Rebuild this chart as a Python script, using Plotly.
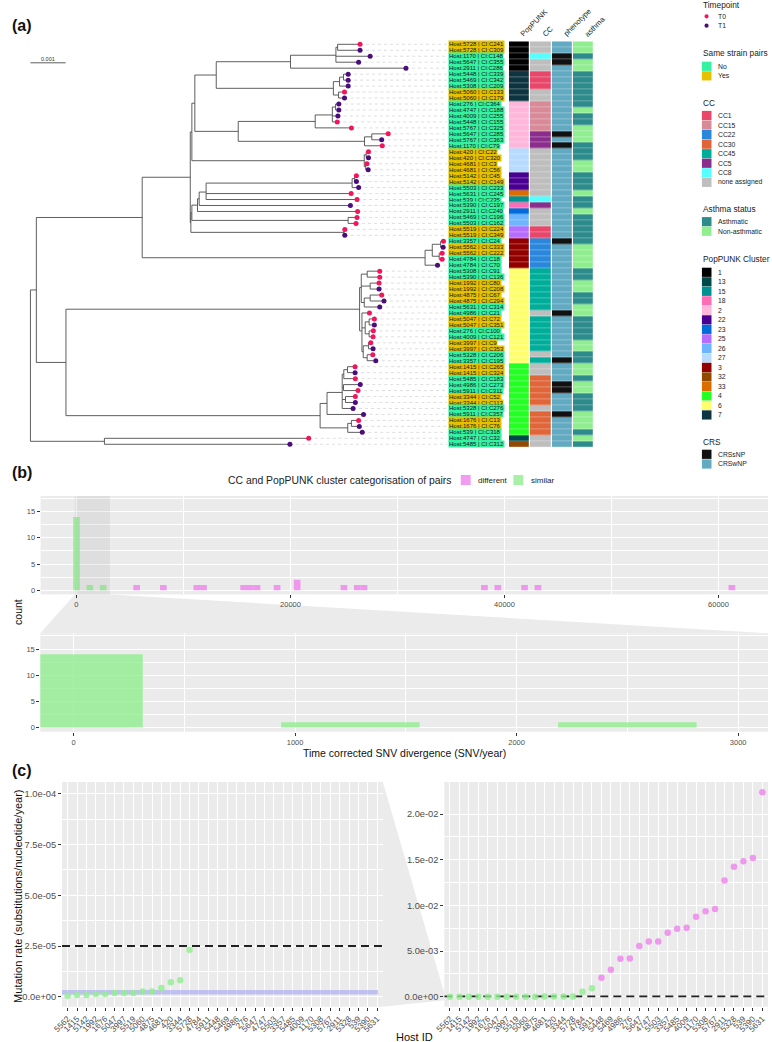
import plotly.graph_objects as go

W, H = 772, 1042
FONT = 'Liberation Sans, Arial, sans-serif'

# ---------------- panel (a) data: tips in plotted order ----------------
hosts = [5728, 5728, 1170, 5647, 2911, 5448, 5469, 5308, 5060, 5060, 276, 4747, 4009, 5448, 5767, 5647, 5767,
         1170, 420, 420, 4681, 4681, 5142, 5142, 5503, 5631, 539, 5390, 2911, 5469, 5503, 5519, 5519, 3357,
         5562, 5562, 4784, 4784, 5308, 5390, 1992, 1992, 4875, 4875, 5631, 4986, 5047, 5047, 276, 4009, 3997,
         3997, 5328, 3357, 1415, 1415, 5485, 4986, 5911, 3344, 3344, 5328, 5911, 1676, 1676, 539, 4747, 5485]
isolates = ['C241', 'C309', 'C148', 'C355', 'C286', 'C339', 'C342', 'C209', 'C133', 'C179', 'C364', 'C188',
            'C255', 'C155', 'C325', 'C285', 'C363', 'C79', 'C22', 'C320', 'C3', 'C56', 'C45', 'C149', 'C233',
            'C245', 'C235', 'C197', 'C240', 'C196', 'C162', 'C224', 'C349', 'C24', 'C333', 'C222', 'C18', 'C70',
            'C91', 'C136', 'C80', 'C208', 'C67', 'C294', 'C314', 'C21', 'C72', 'C351', 'C100', 'C121', 'C9',
            'C353', 'C206', 'C195', 'C265', 'C324', 'C183', 'C273', 'C311', 'C52', 'C113', 'C276', 'C357', 'C13',
            'C76', 'C318', 'C32', 'C312']
same_strain = list('YYNNNNNNYY' 'NNNNNNNNYY' 'YYYYNNNNNN' 'NYYNYYNNNN' 'YYYYNNYYNN' 'YYNNYYNNNY' 'YNNYYNNN')
timepoint = list('0111111101' '1110001001' '0101100100' '0010100100' '0101100100' '0101010100' '11101101')

poppunk = (['1'] * 5 + ['7'] * 5 + ['2'] * 8 + ['27'] * 4 + ['22'] * 3 + ['33', '15', '18', '23'] + ['26'] * 2
           + ['25'] * 2 + ['3'] * 5 + ['6'] * 16 + ['4'] * 12 + ['13', '32'])
cc = (['none assigned', 'none assigned', 'CC8', 'none assigned', 'none assigned'] + ['CC1'] * 3
      + ['none assigned'] * 2 + ['CC15'] * 5 + ['CC5'] * 3 + ['none assigned'] * 8 + ['CC8', 'CC5']
      + ['none assigned'] * 3 + ['CC1'] * 2 + ['CC22'] * 5 + ['CC45'] * 7 + ['none assigned'] + ['CC45'] * 6
      + ['none assigned', 'CC45', 'none assigned', 'none assigned'] + ['CC30'] * 5 + ['none assigned']
      + ['CC30'] * 4 + ['none assigned'] * 2)
crssnp_rows = [3, 4, 16, 18, 34, 46, 54, 58, 59, 63]
non_asthmatic_hosts = [5728, 5647, 2911, 4747, 5767, 4681, 5631, 5562, 4784, 1992, 4986, 3997, 1415,
                       5911, 1676]

# tree (newick, substitutions/site), tip names = row number
n1 = '(((1:0.000636,2:0.000636):0.000048,3:0.000972,4:0.000644):0.001288,5:0.003276):0.002108'
n2 = '(((6:0.000132,7:0.000132):0.000112,8:0.000244):0.000176,(9:0.000168,10:0.000168):0.000148):0.003324'
n3 = '(((11:0.000092,12:0.000092):0.000092,13:0.000157,14:0.00014):0.000487,15:0.001028):0.002184'
n4 = '((16:0.000465,17:0.00028):0.000207,18:0.000504):0.003584'
n5 = '((19:0.000064,20:0.000064):0.000056,(21:0.000034,22:0.00007):0.000042):0.004892'
c1 = '((' + n1 + ',' + n2 + '):0.000608,(' + n3 + ',' + n4 + '):0.001232):0.000084'
upper = '(' + c1 + ',' + n5 + '):0.000045'
l4 = '(((23:0.000048,24:0.000048):0.000073,25:0.000185):0.004144,26:0.004116,27:0.004284):0.000196'
lower = ('((((' + l4 + ',28:0.004292):0.000048,29:0.004544):0.00016,(30:0.000252,31:0.000224):0.004435):0.000028,'
         '(32:0.000022,33:0.000022):0.004346):0.000017')
a1b = '(((34:0.000078,35:0.00007):0.000238,(36:0.000084,37:0.000084):0.000196):0.000204,38:0.000353):0.008028'
a1 = '((' + upper + ',' + lower + '):0.001364,' + a1b + '):0.003004'
a2a = ('(((39:0.000356,40:0.000356):0.000168,(41:0.000252,42:0.000252):0.000252,'
       '((43:0.000328,44:0.000392):0.000168,45:0.00044):0.000084):0.000048,'
       '(46:0.000213,((47:0.000148,48:0.000148):0.000112,(49:0.00012,50:0.000112):0.000112):0.000092,'
       '((51:0.000067,52:0.000132):0.000148,(53:0.00016,54:0.000244):0.000112):0.000036):0.000067):0.008333')
a2b = ('(((((55:0.000216,56:0.000216):0.000104,57:0.000328):0.000045,(58:0.000476,59:0.000412):0.000036,'
       '(60:0.00028,61:0.00028):0.000092,62:0.000308):0.000431,63:0.001036):0.000196,'
       '((64:0.000204,65:0.000224):0.000104,66:0.000412):0.000784):0.007213')
newick = '((' + a1 + ',(' + a2a + ',' + a2b + '):0.00084):0.000168,(67:0.005796,68:0.005264):0.0021);'

# ---------------- panel (b) data ----------------
bin_width = 625
similar_bins = [0, 1250, 2500]
similar_counts = [14, 1, 1]
different_bins = [5625, 8125, 11250, 11875, 15625, 16250, 16875, 18750, 20625, 25000, 26250, 26875,
                  38125, 39375, 41875, 43125, 61250]
different_counts = [1, 1, 1, 1, 1, 1, 1, 1, 2, 1, 1, 1, 1, 1, 1, 1, 1]

# ---------------- panel (c) data ----------------
rate_hosts = ['5562', '1415', '5142', '1992', '1676', '5047', '3997', '5519', '5060', '4875', '4681', '420',
              '3344', '5728', '4784', '5911', '5448', '5469', '4986', '276', '5647', '4747', '5503', '3357',
              '5485', '4009', '1170', '5308', '5767', '2911', '5328', '539', '5390', '5631']
rates = [4.9e-7, 8.2e-7, 8.2e-7, 1.3e-6, 1.3e-6, 1.8e-6, 1.8e-6, 1.8e-6, 2.6e-6, 2.6e-6, 4.3e-6, 7.1e-6,
         8.1e-6, 2.32e-5, 5.5e-4, 9.1e-4, 2.08e-3, 2.95e-3, 4.15e-3, 4.19e-3, 5.54e-3, 6.05e-3, 6.05e-3,
         6.99e-3, 7.43e-3, 7.54e-3, 8.74e-3, 9.36e-3, 9.61e-3, 1.271e-2, 1.424e-2, 1.482e-2, 1.519e-2, 2.24e-2]
rate_similar = [True] * 16 + [False] * 18
threshold_rate = 2.5e-5
baseline_rate = 2.2e-6

# ---------------- colours ----------------
tp_colors = {'0': '#F5145C', '1': '#4B0C7E'}
strain_colors = {'N': '#35F2A0', 'Y': '#E5C100'}
pp_levels = ['1', '13', '15', '18', '2', '22', '23', '25', '26', '27', '3', '32', '33', '4', '6', '7']
pp_colors = ['#000000', '#004949', '#009292', '#FF6DB6', '#FFB6DB', '#490092', '#006DDB', '#B66DFF',
             '#6DB6FF', '#B6DBFF', '#920000', '#924900', '#DB6D00', '#24FF24', '#FFFF6D', '#0E3441']
cc_levels = ['CC1', 'CC15', 'CC22', 'CC30', 'CC45', 'CC5', 'CC8', 'none assigned']
cc_colors = ['#E8476A', '#D98A99', '#2B87DB', '#E0663A', '#00AD9A', '#8B2D8C', '#55FFFF', '#BEBEBE']
crs_levels = ['CRSsNP', 'CRSwNP']
crs_colors = ['#111111', '#62A9C2']
asthma_levels = ['Asthmatic', 'Non-asthmatic']
asthma_colors = ['#2E8B8B', '#90EE90']
GREEN = 'rgba(144,238,144,0.8)'
PINK = 'rgba(238,130,238,0.8)'
PANEL = '#EBEBEB'


def px(x):
    return x / W


def py(y):
    return 1 - y / H


def to_paper(v, rng, dom):
    return dom[0] + (v - rng[0]) / (rng[1] - rng[0]) * (dom[1] - dom[0])


def parse_newick(s):
    pos = 0

    def node():
        nonlocal pos
        children = []
        if s[pos] == '(':
            pos += 1
            while True:
                children.append(node())
                if s[pos] == ',':
                    pos += 1
                else:
                    break
            pos += 1
        start = pos
        while s[pos] not in ':,);':
            pos += 1
        name = s[start:pos]
        bl = 0.0
        if s[pos] == ':':
            pos += 1
            start = pos
            while s[pos] not in ',);':
                pos += 1
            bl = float(s[start:pos])
        return {'name': name, 'bl': bl, 'children': children}

    return node()


def layout_tree(n, depth):
    n['x'] = depth + n['bl']
    if n['children']:
        for c in n['children']:
            layout_tree(c, n['x'])
        n['y'] = sum(c['y'] for c in n['children']) / len(n['children'])
    else:
        n['y'] = int(n['name'])


tree = parse_newick(newick)
tree['bl'] = 0.0
layout_tree(tree, 0.0)

ex, ey, tips = [], [], []


def collect(n):
    if not n['children']:
        tips.append(n)
        return
    ys = [c['y'] for c in n['children']]
    ex.extend([n['x'], n['x'], None])
    ey.extend([min(ys), max(ys), None])
    for c in n['children']:
        ex.extend([n['x'], c['x'], None])
        ey.extend([c['y'], c['y'], None])
        collect(c)


collect(tree)
tips.sort(key=lambda t: t['y'])

n_rows = len(hosts)
row_px0, row_step = 44.3, 5.97
y_dom = [py(row_px0 + (n_rows - 0.5) * row_step), py(row_px0 - 0.5 * row_step)]
root_px, px_per_unit = 20.7, 35700.0
tree_right_px = 443
tree_range = [-root_px / px_per_unit, (tree_right_px - root_px) / px_per_unit]

fig = go.Figure()


def note(x, y, text, size, color='#222222', xanchor='left', **kw):
    # text placed in page pixels, always anchored on its vertical middle
    fig.add_annotation(x=px(x), y=py(y), xref='paper', yref='paper', text=text, showarrow=False,
                       xanchor=xanchor, yanchor=kw.pop('yanchor', 'middle'), font=dict(size=size, color=color), **kw)


# aligned dotted guides
gx, gy = [], []
for t in tips:
    gx.extend([t['x'], tree_range[1], None])
    gy.extend([t['y'], t['y'], None])
fig.add_trace(go.Scatter(x=gx, y=gy, mode='lines', line=dict(color='#C8C8C8', width=0.6, dash='dot'),
                         hoverinfo='skip', showlegend=False))
fig.add_trace(go.Scatter(x=ex, y=ey, mode='lines', line=dict(color='#4D4D4D', width=0.9),
                         hoverinfo='skip', showlegend=False))
fig.add_trace(go.Scatter(x=[t['x'] for t in tips], y=[t['y'] for t in tips], mode='markers',
                         marker=dict(size=5, color=[tp_colors[timepoint[t['y'] - 1]] for t in tips]),
                         hoverinfo='skip', showlegend=False))
# scale bar
fig.add_trace(go.Scatter(x=[0, 0.001], y=[4.1, 4.1], mode='lines', line=dict(color='#333333', width=0.8),
                         hoverinfo='skip', showlegend=False))
fig.add_annotation(x=0.0005, y=3.4, xref='x', yref='y', text='0.001', showarrow=False, xanchor='center',
                   yanchor='middle', font=dict(size=5.5, color='#333333'))

# heatmap
all_colors = pp_colors + cc_colors + crs_colors + asthma_colors
off_cc = len(pp_colors)
off_crs = off_cc + len(cc_colors)
off_as = off_crs + len(crs_colors)
z = []
for i in range(n_rows):
    row = i + 1
    z.append([pp_levels.index(poppunk[i]),
              off_cc + cc_levels.index(cc[i]),
              off_crs + (0 if row in crssnp_rows else 1),
              off_as + (1 if hosts[i] in non_asthmatic_hosts else 0)])
nc = len(all_colors)
cscale = []
for k, c in enumerate(all_colors):
    cscale.append([k / nc, c])
    cscale.append([(k + 1) / nc, c])
fig.add_trace(go.Heatmap(z=z, x=[0, 1, 2, 3], y=list(range(1, n_rows + 1)), xaxis='x2', yaxis='y',
                         colorscale=cscale, zmin=-0.5, zmax=nc - 0.5, showscale=False, xgap=1.2, ygap=0.3,
                         hoverinfo='skip'))
for k, name in enumerate(['PopPUNK', 'CC', 'phenotype', 'asthma']):
    note(513 + 21.5 * k, 41, name, 7.5, textangle=-45, yanchor='bottom')

# tip labels
for i in range(n_rows):
    fig.add_annotation(x=px(443.5), y=i + 1, xref='paper', yref='y',
                       text='Host:%d | CI:%s' % (hosts[i], isolates[i]), showarrow=False,
                       xanchor='left', yanchor='middle', bgcolor=strain_colors[same_strain[i]],
                       borderpad=0, height=6, font=dict(size=6, color='#111111'))

# ---------------- panel (b) ----------------
b_up_x, b_up_y = [-3348, 64628], [-0.8, 18]
b_lo_x, b_lo_y = [-150, 3135], [-0.8, 18]
b_up_dx, b_up_dy = [px(31), px(768)], [py(594.4), py(496)]
b_lo_dx, b_lo_dy = [px(30.7), px(768)], [py(731.7), py(633.3)]
for xa, ya in [('x3', 'y3'), ('x4', 'y4')]:
    fig.add_trace(go.Bar(x=similar_bins, y=similar_counts, width=bin_width, marker=dict(color=GREEN, line_width=0),
                         xaxis=xa, yaxis=ya, showlegend=False, hoverinfo='skip'))
    fig.add_trace(go.Bar(x=different_bins, y=different_counts, width=bin_width,
                         marker=dict(color=PINK, line_width=0), xaxis=xa, yaxis=ya, showlegend=False,
                         hoverinfo='skip'))

# magnified region in the upper plot and its connector
fig.add_shape(type='rect', xref='x3', yref='y3 domain', x0=b_lo_x[0], x1=b_lo_x[1], y0=0, y1=1,
              fillcolor='rgba(150,150,150,0.14)', line_width=0, layer='above')
hx0 = to_paper(b_lo_x[0], b_up_x, b_up_dx)
hx1 = to_paper(b_lo_x[1], b_up_x, b_up_dx)
fig.add_shape(type='path', xref='paper', yref='paper', layer='below', line_width=0, fillcolor=PANEL,
              path='M %f %f L %f %f L %f %f L %f %f Z' % (hx0, b_up_dy[0], hx1, b_up_dy[0],
                                                          b_lo_dx[1], b_lo_dy[1], b_lo_dx[0], b_lo_dy[1]))

# (b) legend
note(219, 480, 'CC and PopPUNK cluster categorisation of pairs', 10.4)
for x0, col, lab in [(456.7, PINK, 'different'), (510, GREEN, 'similar')]:
    fig.add_shape(type='rect', xref='paper', yref='paper', x0=px(x0), x1=px(x0 + 10), y0=py(485), y1=py(475),
                  fillcolor=col, line_width=0)
    note(x0 + 15.5, 480, lab, 8)

# ---------------- panel (c) ----------------
c_x = [-0.6, 33.6]
c_left_y, c_right_y = [-4.93e-6, 1.059e-4], [-0.0011, 0.02351]
c_left_dx, c_right_dx = [px(52.7), px(377.7)], [px(440), px(768)]
c_dy = [py(1006.7), py(782)]
idx = list(range(len(rate_hosts)))
for xa, ya in [('x5', 'y5'), ('x6', 'y6')]:
    for flag, col in [(True, GREEN), (False, PINK)]:
        sel = [i for i in idx if rate_similar[i] == flag]
        fig.add_trace(go.Scatter(x=sel, y=[rates[i] for i in sel], mode='markers', xaxis=xa, yaxis=ya,
                                 marker=dict(size=6.5, color=col), showlegend=False, hoverinfo='skip',
                                 cliponaxis=True))
fig.add_shape(type='line', xref='x5', yref='y5', x0=c_x[0], x1=33.1, y0=baseline_rate, y1=baseline_rate,
              line=dict(color='rgba(150,150,245,0.5)', width=4.3), layer='between')
for xr, yr in [('x5', 'y5'), ('x6', 'y6')]:
    fig.add_shape(type='line', xref=xr, yref=yr, x0=c_x[0], x1=c_x[1], y0=threshold_rate, y1=threshold_rate,
                  line=dict(color='#222222', width=1.8, dash='8px,5px'), layer='between')
zoom_from = [-0.0004, 0.0004]
fig.add_shape(type='path', xref='paper', yref='paper', layer='below', line_width=0, fillcolor=PANEL,
              path='M %f %f L %f %f L %f %f L %f %f Z' % (
                  c_left_dx[1], c_dy[1], c_right_dx[0], to_paper(zoom_from[1], c_right_y, c_dy),
                  c_right_dx[0], to_paper(zoom_from[0], c_right_y, c_dy), c_left_dx[1], c_dy[0]))

# ---------------- right-hand legends for (a) ----------------
key_x0, key_x1, lab_x = 701, 710.7, 715


def legend_keys(labels, colors, y0, step):
    for k, (lab, col) in enumerate(zip(labels, colors)):
        yc = y0 + k * step
        fig.add_shape(type='rect', xref='paper', yref='paper', x0=px(key_x0), x1=px(key_x1),
                      y0=py(yc + 4.6), y1=py(yc - 4.6), fillcolor=col, line_width=0)
        note(lab_x, yc, lab, 6.8)


note(key_x0 - 1, 4.8, 'Timepoint', 8.3)
for k, (lab, col) in enumerate([('T0', tp_colors['0']), ('T1', tp_colors['1'])]):
    yc = 16.3 + k * 9.4
    fig.add_shape(type='circle', xref='paper', yref='paper', x0=px(703.6), x1=px(707.8), y0=py(yc + 2.1),
                  y1=py(yc - 2.1), fillcolor=col, line_width=0)
    note(lab_x, yc, lab, 6.8)
note(key_x0 - 1, 53.3, 'Same strain pairs', 8.3)
legend_keys(['No', 'Yes'], [strain_colors['N'], strain_colors['Y']], 66.3, 9.55)
note(key_x0 - 1, 102.7, 'CC', 8.3)
legend_keys(cc_levels, cc_colors, 115.5, 9.55)
note(key_x0 - 1, 209, 'Asthma status', 8.3)
legend_keys(asthma_levels, asthma_colors, 221.7, 9.55)
note(key_x0 - 1, 258.7, 'PopPUNK Cluster', 8.3)
legend_keys(pp_levels, pp_colors, 272.3, 9.51)
note(key_x0 - 1, 441.7, 'CRS', 8.3)
legend_keys(crs_levels, crs_colors, 454.3, 9.7)

# panel letters and axis titles
for lab, y in [('(a)', 25), ('(b)', 472.7), ('(c)', 770)]:
    note(0, y, '<b>%s</b>' % lab, 16, color='#111111')
note(8, 612, 'count', 10.5, color='#111111', xanchor='center', textangle=-90)
note(400, 753, 'Time corrected SNV divergence (SNV/year)', 10.5, color='#111111', xanchor='center')
note(8, 896, 'Mutation rate (substitutions/nucleotide/year)', 11, color='#111111', xanchor='center',
     textangle=-90)
note(410, 1037, 'Host ID', 11, color='#111111', xanchor='center')

tick_font = dict(size=7.5, color='#4D4D4D')
gg = dict(showgrid=True, gridcolor='white', gridwidth=1, zeroline=False, ticks='outside', ticklen=3,
          tickcolor='#333333', tickwidth=0.8, tickfont=tick_font, showline=False)
hidden = dict(visible=False, showgrid=False, zeroline=False)
c_font = dict(size=9.3, color='#4D4D4D')
c_xfont = dict(size=8.3, color='#4D4D4D')

fig.update_layout(
    width=W, height=H, margin=dict(l=0, r=0, t=0, b=0), paper_bgcolor='white', plot_bgcolor=PANEL,
    font=dict(family=FONT), barmode='overlay', showlegend=False,
    xaxis=dict(domain=[0, px(tree_right_px)], range=tree_range, **hidden),
    yaxis=dict(domain=y_dom, range=[n_rows + 0.5, 0.5], **hidden),
    xaxis2=dict(domain=[px(505.5), px(592)], range=[-0.5, 3.5], anchor='y', **hidden),
    xaxis3=dict(domain=b_up_dx, range=b_up_x, anchor='y3', tickvals=[0, 20000, 40000, 60000], tickformat='d',
                minor=dict(tickvals=[10000, 30000, 50000], showgrid=True, gridcolor='white', gridwidth=0.5,
                           ticklen=0), **gg),
    yaxis3=dict(domain=b_up_dy, range=b_up_y, anchor='x3', tickvals=[0, 5, 10, 15],
                minor=dict(tickvals=[2.5, 7.5, 12.5, 17.5], showgrid=True, gridcolor='white', gridwidth=0.5,
                           ticklen=0), **gg),
    xaxis4=dict(domain=b_lo_dx, range=b_lo_x, anchor='y4', tickvals=[0, 1000, 2000, 3000], tickformat='d',
                minor=dict(tickvals=[500, 1500, 2500], showgrid=True, gridcolor='white', gridwidth=0.5,
                           ticklen=0), **gg),
    yaxis4=dict(domain=b_lo_dy, range=b_lo_y, anchor='x4', tickvals=[0, 5, 10, 15],
                minor=dict(tickvals=[2.5, 7.5, 12.5, 17.5], showgrid=True, gridcolor='white', gridwidth=0.5,
                           ticklen=0), **gg),
    xaxis5=dict(domain=c_left_dx, range=c_x, anchor='y5', tickvals=idx, ticktext=rate_hosts, tickangle=-45, **gg),
    yaxis5=dict(domain=c_dy, range=c_left_y, anchor='x5', tickvals=[0, 2.5e-5, 5e-5, 7.5e-5, 1e-4],
                ticktext=['0.0e+00', '2.5e-05', '5.0e-05', '7.5e-05', '1.0e-04'],
                minor=dict(tickvals=[1.25e-5, 3.75e-5, 6.25e-5, 8.75e-5], showgrid=True, gridcolor='white',
                           gridwidth=0.5, ticklen=0), **gg),
    xaxis6=dict(domain=c_right_dx, range=c_x, anchor='y6', tickvals=idx, ticktext=rate_hosts, tickangle=-45, **gg),
    yaxis6=dict(domain=c_dy, range=c_right_y, anchor='x6', tickvals=[0, 0.005, 0.01, 0.015, 0.02],
                ticktext=['0.0e+00', '5.0e-03', '1.0e-02', '1.5e-02', '2.0e-02'],
                minor=dict(tickvals=[0.0025, 0.0075, 0.0125, 0.0175], showgrid=True, gridcolor='white',
                           gridwidth=0.5, ticklen=0), **gg),
)
# tree / heatmap area has a white background
fig.add_shape(type='rect', xref='paper', yref='paper', x0=0, x1=px(600), y0=y_dom[0] - 0.01, y1=1,
              fillcolor='white', line_width=0, layer='below')
fig.update_xaxes(tickfont=c_xfont, selector=dict(anchor='y5'))
fig.update_xaxes(tickfont=c_xfont, selector=dict(anchor='y6'))
fig.update_yaxes(tickfont=c_font, selector=dict(anchor='x5'))
fig.update_yaxes(tickfont=c_font, selector=dict(anchor='x6'))

# the page body has a default 8px margin; drop it so the figure sits at the window origin
fig.write_html('out.html', config={'displayModeBar': False},
               post_script="document.body.style.margin='0';")
